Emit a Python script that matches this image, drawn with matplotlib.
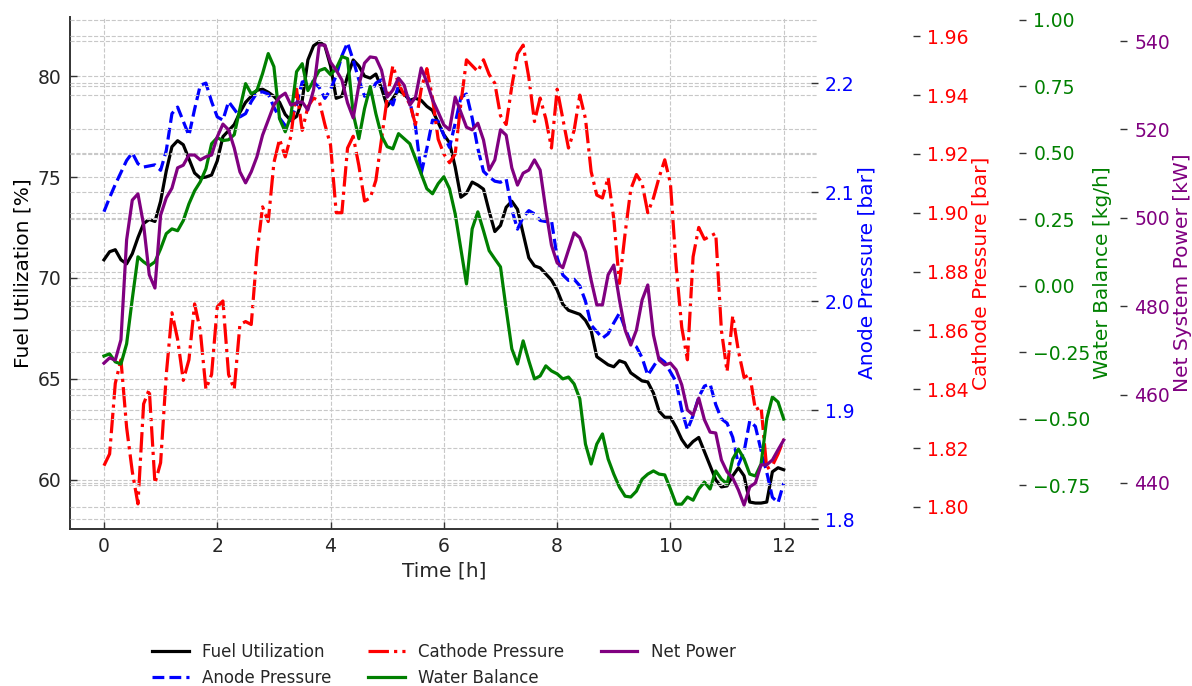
import numpy as np
import matplotlib
matplotlib.use("Agg")
import matplotlib.pyplot as plt

# sample grid (hours), one reading every 6 minutes
time_h = np.linspace(0, 12, 121)

fuel_utilization = [
    70.9, 71.3, 71.4, 70.9, 70.7, 71.2, 72.0, 72.7, 72.9, 72.8,
    73.8, 75.3, 76.5, 76.8, 76.6, 75.9, 75.2, 74.95, 75.0, 75.1,
    75.8, 77.0, 77.3, 77.6, 78.2, 78.7, 79.0, 79.3, 79.35, 79.2,
    79.0, 78.7, 78.1, 77.8, 78.0, 78.8, 80.8, 81.5, 81.7, 81.5,
    80.5, 78.9, 79.0, 80.0, 80.8, 80.5, 80.0, 79.9, 80.1, 79.4,
    78.5, 78.9, 79.3, 79.1, 78.8, 78.9, 78.8, 78.5, 78.3, 77.7,
    77.1, 76.7, 75.5, 74.0, 74.2, 74.75, 74.6, 74.4, 73.3, 72.3,
    72.6, 73.5, 73.8, 73.4, 72.2, 71.0, 70.6, 70.5, 70.2, 69.9,
    69.4, 68.7, 68.4, 68.3, 68.2, 67.9, 67.4, 66.1, 65.9, 65.7,
    65.6, 65.9, 65.8, 65.3, 65.1, 64.9, 64.85, 64.3, 63.4, 63.1,
    63.1, 62.6, 62.0, 61.6, 61.9, 62.1, 61.4, 60.7, 60.0, 59.65,
    59.7, 60.2, 60.6, 60.2, 58.9, 58.85, 58.85, 58.9, 60.4, 60.6,
    60.5,
]

anode_pressure = [
    2.082, 2.095, 2.107, 2.118, 2.129, 2.136, 2.126, 2.123, 2.124, 2.125,
    2.120, 2.138, 2.172, 2.178, 2.165, 2.152, 2.176, 2.198, 2.200, 2.183,
    2.169, 2.166, 2.183, 2.176, 2.169, 2.172, 2.183, 2.191, 2.192, 2.190,
    2.178, 2.168, 2.161, 2.166, 2.180, 2.201, 2.202, 2.201, 2.196, 2.186,
    2.194, 2.207, 2.225, 2.237, 2.221, 2.203, 2.188, 2.190, 2.200, 2.203,
    2.188, 2.180, 2.198, 2.194, 2.183, 2.160, 2.117, 2.140, 2.166, 2.165,
    2.152, 2.141, 2.163, 2.187, 2.190, 2.168, 2.140, 2.119, 2.114, 2.110,
    2.109, 2.112, 2.084, 2.066, 2.077, 2.083, 2.080, 2.074, 2.073, 2.074,
    2.040, 2.024, 2.019, 2.020, 2.014, 2.000, 1.978, 1.972, 1.966, 1.970,
    1.980, 1.989, 1.975, 1.962, 1.958, 1.948, 1.932, 1.940, 1.948, 1.944,
    1.935, 1.926, 1.900, 1.882, 1.895, 1.912, 1.922, 1.924, 1.905, 1.892,
    1.888, 1.875, 1.850, 1.862, 1.890, 1.885, 1.863, 1.843, 1.820, 1.815,
    1.833,
]

cathode_pressure = [
    1.814, 1.818, 1.842, 1.850, 1.827, 1.812, 1.801, 1.835, 1.840, 1.808,
    1.815, 1.845, 1.866, 1.857, 1.843, 1.850, 1.869, 1.860, 1.840, 1.845,
    1.868, 1.870, 1.845, 1.840, 1.862, 1.863, 1.862, 1.886, 1.902, 1.897,
    1.917, 1.925, 1.919, 1.926, 1.942, 1.928, 1.936, 1.939, 1.938, 1.930,
    1.923, 1.900, 1.900, 1.922, 1.926, 1.916, 1.904, 1.905, 1.911, 1.925,
    1.939, 1.950, 1.944, 1.940, 1.937, 1.930, 1.942, 1.949, 1.939, 1.925,
    1.920, 1.917, 1.920, 1.937, 1.952, 1.950, 1.948, 1.952, 1.947, 1.944,
    1.933, 1.930, 1.943, 1.954, 1.957, 1.946, 1.931, 1.939, 1.932, 1.922,
    1.942, 1.932, 1.922, 1.928, 1.940, 1.932, 1.914, 1.906, 1.905, 1.912,
    1.898, 1.876, 1.893, 1.908, 1.913, 1.910, 1.900, 1.905, 1.912, 1.918,
    1.910, 1.882, 1.861, 1.850, 1.885, 1.895, 1.891, 1.892, 1.893, 1.860,
    1.846, 1.865, 1.853, 1.844, 1.845, 1.833, 1.834, 1.813, 1.814, 1.818,
    1.823,
]

water_balance = [
    -0.265, -0.257, -0.287, -0.295, -0.219, -0.050, 0.108, 0.089, 0.074, 0.089,
    0.138, 0.195, 0.213, 0.206, 0.244, 0.307, 0.356, 0.390, 0.439, 0.533,
    0.556, 0.545, 0.548, 0.567, 0.665, 0.759, 0.721, 0.733, 0.797, 0.872,
    0.823, 0.627, 0.578, 0.639, 0.804, 0.834, 0.733, 0.770, 0.808, 0.816,
    0.793, 0.816, 0.861, 0.853, 0.646, 0.552, 0.665, 0.748, 0.646, 0.563,
    0.522, 0.514, 0.571, 0.552, 0.533, 0.477, 0.420, 0.364, 0.345, 0.383,
    0.409, 0.364, 0.270, 0.138, 0.006, 0.213, 0.277, 0.206, 0.131, 0.100,
    0.070, -0.088, -0.238, -0.295, -0.208, -0.283, -0.351, -0.340, -0.302, -0.321,
    -0.332, -0.351, -0.344, -0.370, -0.426, -0.596, -0.671, -0.596, -0.558, -0.652,
    -0.709, -0.758, -0.792, -0.795, -0.773, -0.728, -0.709, -0.697, -0.709, -0.712,
    -0.765, -0.822, -0.822, -0.795, -0.807, -0.765, -0.739, -0.765, -0.697, -0.728,
    -0.746, -0.652, -0.615, -0.652, -0.709, -0.716, -0.671, -0.502, -0.419, -0.438,
    -0.502,
]

net_power = [
    467.1, 468.3, 467.8, 472.4, 495.0, 504.0, 505.4, 498.4, 487.1, 484.1,
    500.6, 504.5, 506.7, 511.3, 511.9, 514.2, 514.2, 513.1, 513.8, 514.2,
    518.3, 521.2, 519.9, 515.8, 510.4, 507.9, 510.4, 513.8, 518.7, 522.1,
    525.5, 527.3, 528.2, 525.5, 526.0, 526.2, 524.4, 528.9, 539.1, 539.1,
    535.2, 533.4, 531.2, 526.0, 522.6, 530.0, 535.0, 536.4, 536.2, 533.4,
    527.3, 528.9, 531.6, 530.0, 525.5, 527.3, 533.9, 530.7, 526.7, 523.9,
    521.0, 519.9, 527.3, 523.9, 520.5, 519.9, 521.4, 517.6, 510.8, 513.1,
    519.9, 518.7, 511.3, 507.4, 510.1, 510.8, 513.1, 510.8, 501.8, 493.8,
    489.8, 488.7, 492.7, 496.6, 495.5, 492.3, 485.9, 480.3, 480.3, 487.1,
    489.3, 481.4, 474.6, 471.2, 474.6, 481.4, 484.8, 473.5, 467.8, 466.7,
    467.1, 465.6, 462.2, 456.5, 455.4, 459.2, 454.3, 451.5, 451.3, 445.2,
    442.5, 441.1, 438.4, 435.0, 439.1, 440.0, 444.1, 444.1, 445.2, 447.5,
    449.7,
]

TXT = "#262626"
GRID = dict(color="#c8c8c8", linestyle="--", linewidth=0.8)

plt.rcParams["font.family"] = ["DejaVu Sans"]
plt.rcParams["lines.solid_joinstyle"] = "round"
plt.rcParams["lines.dash_joinstyle"] = "round"

fig, ax = plt.subplots(figsize=(11.92, 6.86), dpi=100)
fig.subplots_adjust(left=0.0587, right=0.686, bottom=0.229, top=0.975)

l1, = ax.plot(time_h, fuel_utilization, color="black", lw=2.3, label="Fuel Utilization")
ax.set_xlabel("Time [h]", fontsize=14.5, color=TXT)
ax.set_ylabel("Fuel Utilization [%]", fontsize=14.5, color="black")
ax.set_ylim(57.57, 82.92)
ax.grid(True, **GRID)
for s in ["top", "right"]:
    ax.spines[s].set_visible(False)
for s in ["left", "bottom"]:
    ax.spines[s].set_color("#333333")
    ax.spines[s].set_linewidth(1.4)
ax.tick_params(direction="in", length=5, width=1, color="#333333",
               labelsize=13.5, labelcolor=TXT, pad=6)

twins = [
    # data, color, style, label, legend, ylim, position
    (anode_pressure, "blue", "--", "Anode Pressure [bar]", "Anode Pressure", (1.791, 2.2605), 1.0),
    (cathode_pressure, "red", "-.", "Cathode Pressure [bar]", "Cathode Pressure", (1.7925, 1.9665), 1.137),
    (water_balance, "green", "-", "Water Balance [kg/h]", "Water Balance", (-0.915, 1.009), 1.279),
    (net_power, "purple", "-", "Net System Power [kW]", "Net Power", (429.6, 545.4), 1.414),
]

handles = [l1]
for data, col, ls, ylab, leg, lim, pos in twins:
    tx = ax.twinx()
    ln, = tx.plot(time_h, data, color=col, linestyle=ls, lw=2.3, label=leg)
    handles.append(ln)
    tx.set_ylim(*lim)
    tx.spines["right"].set_position(("axes", pos))
    for s in tx.spines.values():
        s.set_visible(False)
    tx.set_ylabel(ylab, color=col, fontsize=14.5, labelpad=2)
    tx.tick_params(axis="y", direction="in", length=5, width=1, color="#333333",
                   labelsize=13.5, labelcolor=col, pad=5)
    tx.grid(True, axis="y", **GRID)

ax.legend(handles, [h.get_label() for h in handles], loc="upper center",
          bbox_to_anchor=(0.5, -0.193), ncol=3, frameon=False,
          fontsize=12, labelcolor=TXT, handlelength=2.2, columnspacing=2.2,
          labelspacing=0.5)

fig.savefig("out.png", dpi=100)
